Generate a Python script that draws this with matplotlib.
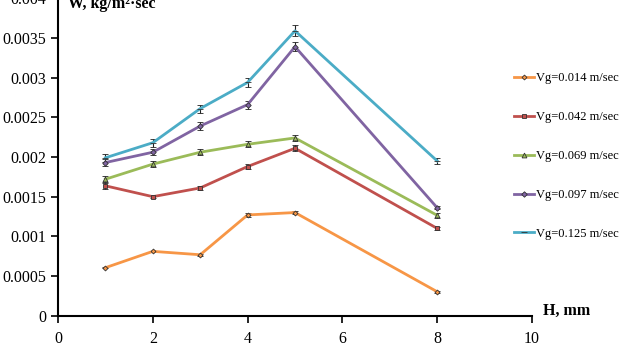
import matplotlib
matplotlib.use("Agg")
import matplotlib.pyplot as plt
from matplotlib.lines import Line2D

H = [1, 2, 3, 4, 5, 8]
labels = ["Vg=0.014 m/sec", "Vg=0.042 m/sec", "Vg=0.069 m/sec", "Vg=0.097 m/sec", "Vg=0.125 m/sec"]
w_014 = [0.000605, 0.000811, 0.000768, 0.00127, 0.00130, 0.000302]
w_042 = [0.001637, 0.00150, 0.00161, 0.00188, 0.00211, 0.00110]
w_069 = [0.00172, 0.00191, 0.00206, 0.00216, 0.00224, 0.001265]
w_097 = [0.00193, 0.00206, 0.00239, 0.00266, 0.00339, 0.00136]
w_125 = [0.00199, 0.00218, 0.00261, 0.00294, 0.00359, 0.00195]
err_014 = [0.00001, 0.00001, 0.00001, 0.00002, 0.00002, 0.00001]
err_042 = [0.00004, 0.00002, 0.00003, 0.00003, 0.00004, 0.00002]
err_069 = [0.00004, 0.00004, 0.00004, 0.00004, 0.00004, 0.00003]
err_097 = [0.00004, 0.00004, 0.00005, 0.00005, 0.00006, 0.00002]
err_125 = [0.00005, 0.00005, 0.00005, 0.00006, 0.00007, 0.00004]

series = [w_014, w_042, w_069, w_097, w_125]
errs = [err_014, err_042, err_069, err_097, err_125]
colors = ["#F79646", "#C0504D", "#9BBB59", "#8064A2", "#4BACC6"]
markers = ["D", "s", "^", "D", "_"]
msizes = [2.5, 3.2, 3.5, 2.8, 4]

plt.rcParams['font.family'] = ['Liberation Serif', 'DejaVu Serif']

fig = plt.figure(figsize=(6.28, 3.46), dpi=100)
ax = fig.add_axes([58/628, 1 - 315.7/346, (532-58)/628, (315.7+1.7)/346])

handles = []
for y, e, c, m, ms, lab in zip(series, errs, colors, markers, msizes, labels):
    ax.errorbar(H, y, yerr=e, color=c, lw=2, marker=m, ms=ms, mfc=c, mec="#333333", mew=0.6,
                ecolor="#222222", elinewidth=0.8, capsize=2.5, capthick=0.8)
    handles.append(Line2D([], [], color=c, lw=2, marker=m, ms=ms, mfc=c, mec="#333333", mew=0.6, label=lab))

ax.set_xlim(0, 10)
ax.set_ylim(0, 0.004)
ax.set_xticks([0, 2, 4, 6, 8, 10])
ax.set_yticks([0, 0.0005, 0.001, 0.0015, 0.002, 0.0025, 0.003, 0.0035, 0.004])
ax.set_yticklabels(["0", "0.0005", "0.001", "0.0015", "0.002", "0.0025", "0.003", "0.0035", "0.004"])
for s in ["top", "right"]:
    ax.spines[s].set_visible(False)
for s in ["left", "bottom"]:
    ax.spines[s].set_linewidth(1.5)
ax.tick_params(axis="both", labelsize=11.5, width=1.2, length=5, direction="out")
ax.tick_params(axis="x", pad=6)

fig.text(68/628, 1 - 4/346, "W, kg/m\u00b2\u00b7sec", fontsize=11.5, fontweight="bold", ha="left", va="center")
fig.text(543/628, 1 - 311/346, "H, mm", fontsize=11.5, fontweight="bold", ha="left", va="center")

leg = fig.legend(handles=handles, loc="upper left", bbox_to_anchor=(503/628, 1 - 61/346), frameon=False,
                 fontsize=9, labelspacing=2.15, handlelength=1.6, handletextpad=0.15)

fig.savefig("out.png", dpi=100)
